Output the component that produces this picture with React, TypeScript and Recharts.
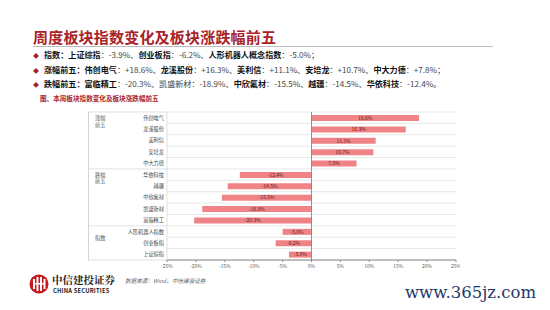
import React from 'react';
import {
  Bar,
  BarChart,
  CartesianGrid,
  LabelList,
  ReferenceLine,
  XAxis,
  YAxis
} from 'recharts';

const categories = [
  '伟创电气',
  '龙溪股份',
  '美利信',
  '安培龙',
  '中大力德',
  '华依科技',
  '越疆',
  '中欣氟材',
  '凯盛新材',
  '富临精工',
  '人形机器人指数',
  '创业板指',
  '上证综指'
];
const changes = [18.6, 16.3, 11.1, 10.7, 7.8, -12.4, -14.5, -15.5, -18.9, -20.3, -5.0, -6.2, -3.9];
const groups = [
  { start: 0, label: ['涨幅', '前五'] },
  { start: 5, label: ['跌幅', '前五'] },
  { start: 10, label: ['指数'] }
];
const xTicks = [-25, -20, -15, -10, -5, 0, 5, 10, 15, 20, 25];

const data = categories.map((name, i) => ({ name, value: changes[i] }));

const RED = '#a8232a';
const FONT = '"Noto Sans CJK SC", "Noto Sans", sans-serif';
const AXIS_W = 79;
const PLOT_H = 148;
const BAND = PLOT_H / categories.length;

const CategoryTick = (props: any) => {
  const { y, payload } = props;
  const idx = payload.index;
  const group = groups.find((g) => g.start === idx);
  const top = y - BAND / 2;
  return (
    <g>
      <text x={AXIS_W - 3} y={y} dy={2} textAnchor="end" fontSize={5.2} fill="#444">
        {payload.value}
      </text>
      {group && (
        <>
          <line x1={0} x2={AXIS_W} y1={top} y2={top} stroke="#d4d4d4" strokeWidth={0.7} />
          {group.label.map((t, k) => (
            <text
              key={k}
              x={7}
              y={top + (group.label.length > 1 ? 8 : 14) + k * 6.5}
              fontSize={5.2}
              fill="#555"
            >
              {t}
            </text>
          ))}
        </>
      )}
      {idx === categories.length - 1 && (
        <line x1={0} x2={AXIS_W} y1={y + BAND / 2} y2={y + BAND / 2} stroke="#d4d4d4" strokeWidth={0.7} />
      )}
    </g>
  );
};

const Bullet = ({ top, parts }: { top: number; parts: [string, boolean][] }) => (
  <div style={{ position: 'absolute', left: 33, top, fontSize: 8.1, lineHeight: '10px', whiteSpace: 'nowrap', color: '#333' }}>
    <span style={{ color: RED, fontSize: 6, marginRight: 5 }}>◆</span>
    {parts.map(([t, b], i) => (
      <span key={i} style={{ fontWeight: b ? 700 : 400, color: b ? '#111' : '#444' }}>
        {t}
      </span>
    ))}
  </div>
);

export default function App() {
  return (
    <div style={{ position: 'relative', width: 550, height: 310, background: '#fff', fontFamily: FONT, margin: -8, overflow: 'hidden' }}>
      <div style={{ position: 'absolute', left: 33, top: 27, fontSize: 15, fontWeight: 700, color: RED, lineHeight: '20px', letterSpacing: 0.2 }}>
        周度板块指数变化及板块涨跌幅前五
      </div>
      <div style={{ position: 'absolute', left: 33, top: 46, width: 460, height: 1, background: '#bdbdbd' }} />
      <Bullet
        top={50}
        parts={[
          ['指数：', true], ['上证综指', true], ['：-3.9%、', false], ['创业板指', true], ['：-6.2%、', false],
          ['人形机器人概念指数', true], ['：-5.0%；', false]
        ]}
      />
      <Bullet
        top={65}
        parts={[
          ['涨幅前五：', true], ['伟创电气', true], ['：+18.6%、', false], ['龙溪股份', true], ['：+16.3%、', false],
          ['美利信', true], ['：+11.1%、', false], ['安培龙', true], ['：+10.7%、', false], ['中大力德', true], ['：+7.8%；', false]
        ]}
      />
      <Bullet
        top={79}
        parts={[
          ['跌幅前五：', true], ['富临精工', true], ['：-20.3%、', false], ['凯盛新材', false], ['：-18.9%、', false],
          ['中欣氟材', true], ['：-15.5%、', false], ['越疆', true], ['：-14.5%、', false], ['华依科技', true], ['：-12.4%。', false]
        ]}
      />
      <div style={{ position: 'absolute', left: 40, top: 93, fontSize: 6.6, fontWeight: 700, color: RED, lineHeight: '10px' }}>
        图、本周板块指数变化及板块涨跌幅前五
      </div>

      <div style={{ position: 'absolute', left: 88, top: 108 }}>
        <BarChart
          width={372}
          height={168}
          data={data}
          layout="vertical"
          margin={{ top: 4, right: 4, bottom: 0, left: 0 }}
        >
          <CartesianGrid
            vertical={false}
            stroke="#dcdcdc"
            strokeWidth={0.7}
            horizontalCoordinatesGenerator={({ offset }: any) =>
              Array.from({ length: categories.length + 1 }, (_, i) => offset.top + (i * offset.height) / categories.length)
            }
          />
          <XAxis
            type="number"
            domain={[-25, 25]}
            ticks={xTicks}
            tickFormatter={(v: number) => `${v}%`}
            tick={{ fontSize: 5, fill: '#666' }}
            tickSize={2}
            stroke="#888"
            height={16}
            interval={0}
          />
          <YAxis
            type="category"
            dataKey="name"
            width={AXIS_W}
            axisLine={{ stroke: '#d4d4d4', strokeWidth: 0.7 }}
            tickLine={false}
            tick={<CategoryTick />}
            interval={0}
          />
          <ReferenceLine x={0} stroke="#777" strokeWidth={0.8} />
          <Bar dataKey="value" fill="#f08385" barSize={6} isAnimationActive={false}>
            <LabelList
              dataKey="value"
              position="center"
              formatter={(v: any) => `${Number(v).toFixed(1)}%`}
              style={{ fontSize: 5, fill: '#5a1a1a' }}
            />
          </Bar>
        </BarChart>
      </div>
      <div style={{ position: 'absolute', left: 88, top: 112, width: 0.7, height: 148, background: '#d4d4d4' }} />

      <svg style={{ position: 'absolute', left: 29, top: 274 }} width={20} height={20}>
        <circle cx={10} cy={10} r={9.5} fill="#c8161d" />
        <rect x={4} y={5} width={2} height={10} fill="#fff" />
        <rect x={7.5} y={3} width={2} height={14} fill="#fff" />
        <rect x={11} y={3} width={2} height={14} fill="#fff" />
        <rect x={14.5} y={5} width={2} height={10} fill="#fff" />
        <rect x={6} y={9} width={9} height={1.5} fill="#fff" />
      </svg>
      <div style={{ position: 'absolute', left: 52, top: 273, fontSize: 10.5, fontWeight: 700, color: '#222', fontFamily: '"Noto Serif CJK SC", "Noto Sans CJK SC", serif', lineHeight: '13px' }}>
        中信建投证券
      </div>
      <div style={{ position: 'absolute', left: 53, top: 287, fontSize: 5.8, fontWeight: 700, color: '#222', lineHeight: '8px', letterSpacing: 0.2 }}>
        CHINA SECURITIES
      </div>
      <div style={{ position: 'absolute', left: 125, top: 277, fontSize: 5.6, fontStyle: 'italic', color: '#666', lineHeight: '8px' }}>
        数据来源：Wind，中信建投证券
      </div>
      <div style={{ position: 'absolute', left: 405, top: 283, fontSize: 16.5, color: '#1d3a6b', fontFamily: '"DejaVu Serif", serif', lineHeight: '20px' }}>
        www.365jz.com
      </div>
    </div>
  );
}
